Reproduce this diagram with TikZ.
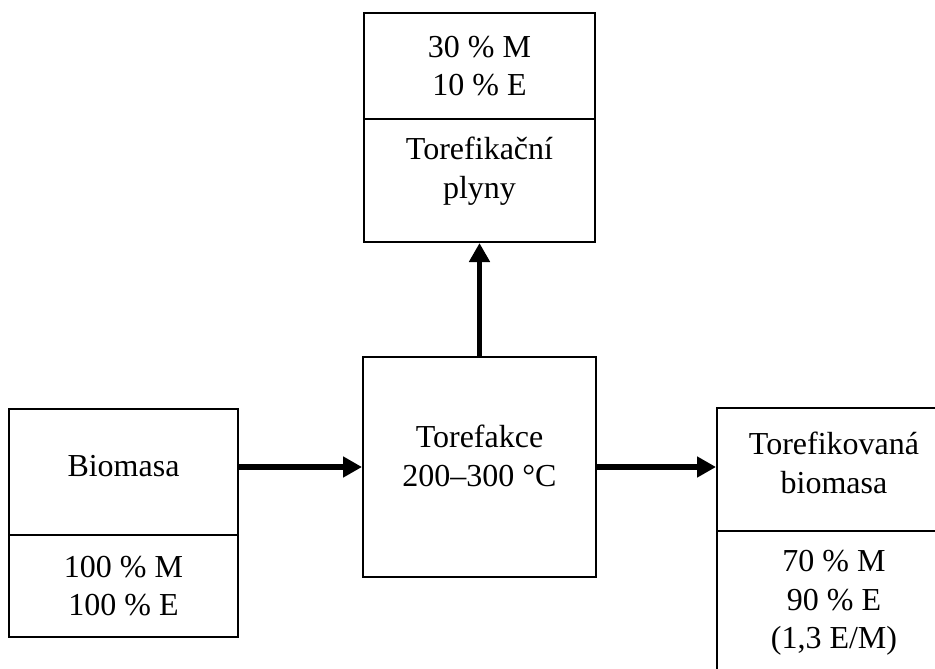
\documentclass[tikz,border=0pt]{standalone}
\usepackage{fontspec}
\setmainfont{Liberation Serif}[Ligatures=NoCommon]
\usetikzlibrary{arrows.meta}
\begin{document}
\begin{tikzpicture}[x=1pt,y=-1pt,
  box/.style={draw=black,line width=2pt,rectangle,inner sep=0pt},
  divline/.style={draw=black,line width=2pt},
  lbl/.style={align=center,font=\fontsize{32}{38.5}\selectfont,inner sep=0pt},
  flow/.style={draw=black,line width=5.5pt,-{Triangle[length=19pt,width=20pt]}}]
\clip (0,0) rectangle (935,669);
% boxes
\node[box,minimum width=229pt,minimum height=228pt] (bio) at (123.5,523) {};
\node[box,minimum width=233pt,minimum height=220pt] (tor) at (479.5,467) {};
\node[box,minimum width=231pt,minimum height=229pt] (gas) at (479.5,127.5) {};
\node[box,minimum width=234pt,minimum height=300pt] (prod) at (834,558) {};
% dividers
\coordinate (bioL) at (9,535); \coordinate (bioR) at (238,535);
\draw[divline] (bioL) -- (bioR);
\coordinate (gasL) at (364,119); \coordinate (gasR) at (595,119);
\draw[divline] (gasL) -- (gasR);
\coordinate (prodL) at (717,531); \coordinate (prodR) at (951,531);
\draw[divline] (prodL) -- (prodR);
% texts
\node[lbl] (biot) at (123.5,466) {Biomasa};
\node[lbl] (biov) at (123.5,586) {100 \% M\\100 \% E};
\node[lbl] (tort) at (479.5,456) {Torefakce\\200–300 °C};
\node[lbl] (gasv) at (479.5,66) {30 \% M\\10 \% E};
\node[lbl] (gast) at (479.5,171) {Torefikační\\plyny};
\node[lbl] (prodt) at (834,463) {Torefikovaná\\biomasa};
\node[lbl] (prodv) at (834,603) {70 \% M\\90 \% E\\(1,3 E/M)};
% arrows
\draw[flow] (bio.east |- tor.west) -- (tor.west);
\draw[flow] (tor.east) -- (prod.west |- tor.east);
\draw[flow] (tor.north) -- (gas.south);
\end{tikzpicture}
\end{document}
